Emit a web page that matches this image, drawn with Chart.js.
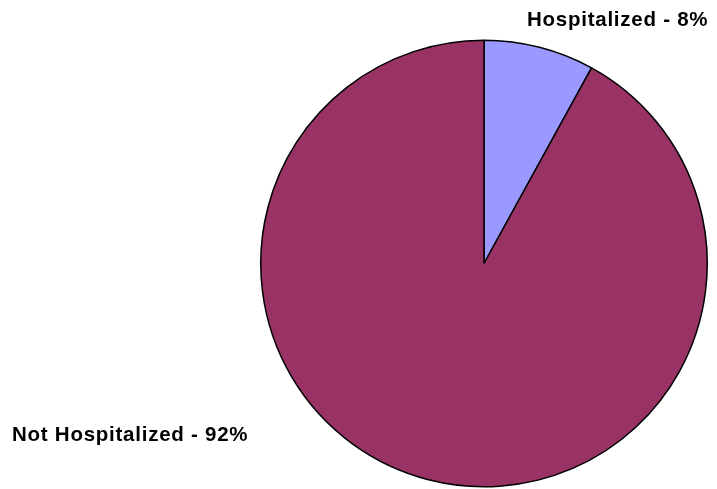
<!DOCTYPE html>
<html>
<head>
<meta charset="utf-8">
<script src="https://cdn.jsdelivr.net/npm/chart.js@4/dist/chart.umd.min.js"></script>
<style>
  html, body { margin: 0; padding: 0; background: #ffffff; }
  #wrap { position: relative; width: 717px; height: 489px; }
  .lbl {
    position: absolute;
    font-family: 'Liberation Sans', Arial, sans-serif;
    font-weight: bold;
    font-size: 20.5px;
    letter-spacing: 0.75px;
    color: #000;
    white-space: nowrap;
  }
</style>
</head>
<body>
<div id="wrap">
  <canvas id="chart" width="717" height="489"></canvas>
  <div class="lbl" id="lblHosp" style="left: 527px; top: 7px;"></div>
  <div class="lbl" id="lblNot" style="left: 12px; top: 422px;"></div>
</div>
<script>
  // slices in drawing order, clockwise from 12 o'clock
  const categories = ['Hospitalized', 'Not Hospitalized'];
  const shares = [8, 92];
  const sliceColors = ['#9999ff', '#993366'];

  document.getElementById('lblHosp').textContent = categories[0] + ' - ' + shares[0] + '%';
  document.getElementById('lblNot').textContent = categories[1] + ' - ' + shares[1] + '%';

  const ctx = document.getElementById('chart').getContext('2d');
  new Chart(ctx, {
    type: 'pie',
    data: {
      labels: categories,
      datasets: [{
        data: shares,
        backgroundColor: sliceColors,
        borderColor: '#000000',
        borderWidth: 1.5,
        borderAlign: 'center',
      }],
    },
    options: {
      responsive: false,
      animation: false,
      layout: { padding: { left: 260, right: 9, top: 38, bottom: 0 } },
      plugins: {
        legend: { display: false },
        tooltip: { enabled: false },
      },
    },
  });
</script>
</body>
</html>
